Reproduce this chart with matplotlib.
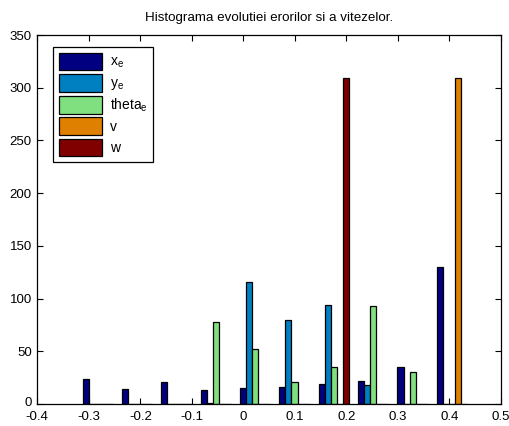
import matplotlib
matplotlib.use("Agg")
import matplotlib.pyplot as plt
import matplotlib.transforms as mtransforms
import numpy as np

plt.rcParams['font.family'] = ['Liberation Sans', 'DejaVu Sans']
plt.rcParams['mathtext.default'] = 'regular'

# Histogram bin centres (10 bins)
bin_centers = [-0.2828, -0.2064, -0.1300, -0.0536, 0.0228, 0.0992, 0.1756, 0.2520, 0.3284, 0.4048]

# Counts per series
x_e = [24, 14, 21, 13, 15, 16, 19, 22, 35, 130]
y_e = [0, 0, 0, 1, 116, 80, 94, 18, 0, 0]
theta_e = [0, 0, 0, 78, 52, 21, 35, 93, 30, 0]
v = [0, 0, 0, 0, 0, 0, 0, 0, 0, 309]
w = [0, 0, 0, 0, 0, 0, 309, 0, 0, 0]

labels = ['$x_e$', '$y_e$', '$theta_e$', 'v', 'w']
colors = ['#000080', '#0080C0', '#80E080', '#E08000', '#800000']
series = [x_e, y_e, theta_e, v, w]

title = 'Histograma evolutiei erorilor si a vitezelor.'
xticks = [-0.4, -0.3, -0.2, -0.1, 0, 0.1, 0.2, 0.3, 0.4, 0.5]
xticklabels = ['-0.4', '-0.3', '-0.2', '-0.1', '0', '0.1', '0.2', '0.3', '0.4', '0.5']
yticks = [0, 50, 100, 150, 200, 250, 300, 350]

fig = plt.figure(figsize=(5.10, 4.26), dpi=100)
ax = fig.add_axes([37.3 / 510, 22 / 426, (501 - 37.3) / 510, (404 - 35) / 426])

centers = np.array(bin_centers)
spacing = np.mean(np.diff(centers))
bw = spacing / 6.5
n = len(series)
for i, (vals, lab, col) in enumerate(zip(series, labels, colors)):
    ax.bar(centers + (i - (n - 1) / 2) * bw, vals, width=bw, color=col,
           edgecolor='black', linewidth=0.9, label=lab, zorder=2)

ax.set_xlim(-0.4, 0.5)
ax.set_ylim(0, 350)
ax.set_xticks(xticks)
ax.set_xticklabels(xticklabels)
ax.set_yticks(yticks)
ax.tick_params(direction='in', length=4, width=0.8, top=True, right=True,
               labelsize=9.5, colors='black')
ax.tick_params(axis='x', pad=5)
ax.tick_params(axis='y', pad=4)
for sp in ax.spines.values():
    sp.set_linewidth(0.9)
    sp.set_color('black')

# lift the "0" y label slightly, as in the reference
lbl0 = ax.get_yticklabels()[0]
lbl0.set_transform(lbl0.get_transform() + mtransforms.ScaledTranslation(0, 3 / 100, fig.dpi_scale_trans))

ax.set_title(title, fontsize=9.6, pad=10)

leg = ax.legend(loc='upper left', bbox_to_anchor=(16 / 463.7, 1 - 12 / 369),
                borderaxespad=0, fontsize=10, handlelength=3.1, handleheight=1.6,
                labelspacing=0.25, handletextpad=0.55, borderpad=0.4,
                fancybox=False, framealpha=1, edgecolor='black')
leg.get_frame().set_linewidth(0.9)

fig.savefig('out.png', dpi=100)
